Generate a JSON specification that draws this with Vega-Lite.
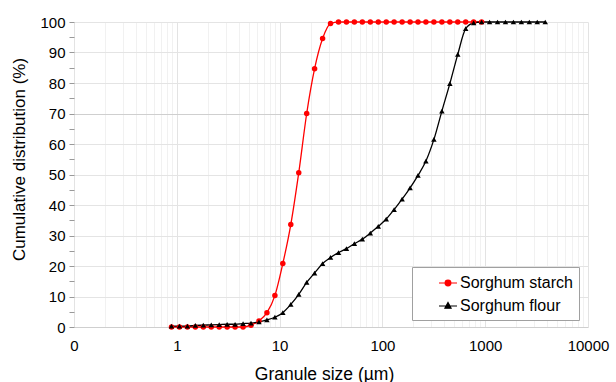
{
  "$schema": "https://vega.github.io/schema/vega-lite/v6.json",
  "width": 514,
  "height": 305,
  "autosize": "none",
  "padding": {"left": 74, "top": 22, "right": 28, "bottom": 55},
  "background": "white",
  "config": {"font": "Liberation Sans", "view": {"stroke": null}},
  "data": {"values": [
    {"size": 0.888, "cum": 0, "sample": "Sorghum starch"},
    {"size": 1.061, "cum": 0, "sample": "Sorghum starch"},
    {"size": 1.268, "cum": 0, "sample": "Sorghum starch"},
    {"size": 1.515, "cum": 0, "sample": "Sorghum starch"},
    {"size": 1.811, "cum": 0, "sample": "Sorghum starch"},
    {"size": 2.164, "cum": 0, "sample": "Sorghum starch"},
    {"size": 2.586, "cum": 0, "sample": "Sorghum starch"},
    {"size": 3.09, "cum": 0, "sample": "Sorghum starch"},
    {"size": 3.69, "cum": 0, "sample": "Sorghum starch"},
    {"size": 4.41, "cum": 0, "sample": "Sorghum starch"},
    {"size": 5.27, "cum": 0.6, "sample": "Sorghum starch"},
    {"size": 6.30, "cum": 2.0, "sample": "Sorghum starch"},
    {"size": 7.53, "cum": 4.7, "sample": "Sorghum starch"},
    {"size": 9.00, "cum": 10.3, "sample": "Sorghum starch"},
    {"size": 10.75, "cum": 20.8, "sample": "Sorghum starch"},
    {"size": 12.85, "cum": 33.6, "sample": "Sorghum starch"},
    {"size": 15.36, "cum": 50.6, "sample": "Sorghum starch"},
    {"size": 18.35, "cum": 70.0, "sample": "Sorghum starch"},
    {"size": 21.9, "cum": 84.7, "sample": "Sorghum starch"},
    {"size": 26.2, "cum": 94.6, "sample": "Sorghum starch"},
    {"size": 31.3, "cum": 99.5, "sample": "Sorghum starch"},
    {"size": 37.4, "cum": 100, "sample": "Sorghum starch"},
    {"size": 44.7, "cum": 100, "sample": "Sorghum starch"},
    {"size": 53.4, "cum": 100, "sample": "Sorghum starch"},
    {"size": 63.8, "cum": 100, "sample": "Sorghum starch"},
    {"size": 76.3, "cum": 100, "sample": "Sorghum starch"},
    {"size": 91.2, "cum": 100, "sample": "Sorghum starch"},
    {"size": 109, "cum": 100, "sample": "Sorghum starch"},
    {"size": 130, "cum": 100, "sample": "Sorghum starch"},
    {"size": 155.5, "cum": 100, "sample": "Sorghum starch"},
    {"size": 186, "cum": 100, "sample": "Sorghum starch"},
    {"size": 222, "cum": 100, "sample": "Sorghum starch"},
    {"size": 265, "cum": 100, "sample": "Sorghum starch"},
    {"size": 317, "cum": 100, "sample": "Sorghum starch"},
    {"size": 379, "cum": 100, "sample": "Sorghum starch"},
    {"size": 453, "cum": 100, "sample": "Sorghum starch"},
    {"size": 541, "cum": 100, "sample": "Sorghum starch"},
    {"size": 646, "cum": 100, "sample": "Sorghum starch"},
    {"size": 772, "cum": 100, "sample": "Sorghum starch"},
    {"size": 923, "cum": 100, "sample": "Sorghum starch"},
    {"size": 0.888, "cum": 0.3, "sample": "Sorghum flour"},
    {"size": 1.061, "cum": 0.3, "sample": "Sorghum flour"},
    {"size": 1.268, "cum": 0.3, "sample": "Sorghum flour"},
    {"size": 1.515, "cum": 0.5, "sample": "Sorghum flour"},
    {"size": 1.811, "cum": 0.6, "sample": "Sorghum flour"},
    {"size": 2.164, "cum": 0.7, "sample": "Sorghum flour"},
    {"size": 2.586, "cum": 0.8, "sample": "Sorghum flour"},
    {"size": 3.09, "cum": 0.9, "sample": "Sorghum flour"},
    {"size": 3.69, "cum": 0.9, "sample": "Sorghum flour"},
    {"size": 4.41, "cum": 1.1, "sample": "Sorghum flour"},
    {"size": 5.27, "cum": 1.3, "sample": "Sorghum flour"},
    {"size": 6.30, "cum": 1.7, "sample": "Sorghum flour"},
    {"size": 7.53, "cum": 2.3, "sample": "Sorghum flour"},
    {"size": 9.00, "cum": 3.2, "sample": "Sorghum flour"},
    {"size": 10.75, "cum": 4.7, "sample": "Sorghum flour"},
    {"size": 12.85, "cum": 7.4, "sample": "Sorghum flour"},
    {"size": 15.36, "cum": 10.7, "sample": "Sorghum flour"},
    {"size": 18.35, "cum": 14.6, "sample": "Sorghum flour"},
    {"size": 21.9, "cum": 17.7, "sample": "Sorghum flour"},
    {"size": 26.2, "cum": 20.8, "sample": "Sorghum flour"},
    {"size": 31.3, "cum": 22.8, "sample": "Sorghum flour"},
    {"size": 37.4, "cum": 24.4, "sample": "Sorghum flour"},
    {"size": 44.7, "cum": 25.7, "sample": "Sorghum flour"},
    {"size": 53.4, "cum": 27.3, "sample": "Sorghum flour"},
    {"size": 63.8, "cum": 28.8, "sample": "Sorghum flour"},
    {"size": 76.3, "cum": 30.8, "sample": "Sorghum flour"},
    {"size": 91.2, "cum": 33.0, "sample": "Sorghum flour"},
    {"size": 109, "cum": 35.4, "sample": "Sorghum flour"},
    {"size": 130, "cum": 38.5, "sample": "Sorghum flour"},
    {"size": 155.5, "cum": 41.9, "sample": "Sorghum flour"},
    {"size": 186, "cum": 45.6, "sample": "Sorghum flour"},
    {"size": 222, "cum": 49.7, "sample": "Sorghum flour"},
    {"size": 265, "cum": 54.4, "sample": "Sorghum flour"},
    {"size": 317, "cum": 61.5, "sample": "Sorghum flour"},
    {"size": 379, "cum": 70.8, "sample": "Sorghum flour"},
    {"size": 453, "cum": 79.8, "sample": "Sorghum flour"},
    {"size": 541, "cum": 89.4, "sample": "Sorghum flour"},
    {"size": 646, "cum": 97.8, "sample": "Sorghum flour"},
    {"size": 772, "cum": 99.7, "sample": "Sorghum flour"},
    {"size": 923, "cum": 100, "sample": "Sorghum flour"},
    {"size": 1103, "cum": 100, "sample": "Sorghum flour"},
    {"size": 1318, "cum": 100, "sample": "Sorghum flour"},
    {"size": 1575, "cum": 100, "sample": "Sorghum flour"},
    {"size": 1882, "cum": 100, "sample": "Sorghum flour"},
    {"size": 2249, "cum": 100, "sample": "Sorghum flour"},
    {"size": 2688, "cum": 100, "sample": "Sorghum flour"},
    {"size": 3212, "cum": 100, "sample": "Sorghum flour"},
    {"size": 3838, "cum": 100, "sample": "Sorghum flour"}
  ]},
  "encoding": {
    "x": {
      "field": "size", "type": "quantitative",
      "scale": {"type": "log", "domain": [0.1, 10000], "nice": false},
      "axis": {
        "title": "Granule size (µm)",
        "values": [0.1,0.2,0.3,0.4,0.5,0.6,0.7,0.8,0.9,1,2,3,4,5,6,7,8,9,10,20,30,40,50,60,70,80,90,100,200,300,400,500,600,700,800,900,1000,2000,3000,4000,5000,6000,7000,8000,9000,10000],
        "labelExpr": "datum.value == 0.1 ? '0' : ((datum.value == 1 || datum.value == 10 || datum.value == 100 || datum.value == 1000 || datum.value == 10000) ? '' + datum.value : '')",
        "labelOverlap": false,
        "labelBound": false,
        "labelFlush": false,
        "labelFontSize": 15,
        "labelColor": "#000",
        "labelPadding": 11,
        "ticks": false,
        "domain": false,
        "grid": true,
        "gridColor": {"condition": {"test": "datum.value == 0.1 || datum.value == 1 || datum.value == 10 || datum.value == 100 || datum.value == 1000 || datum.value == 10000", "value": "#e3e3e3"}, "value": "#f1f1f1"},
        "gridWidth": 1,
        "titleFontSize": 17.5,
        "titleFontWeight": "normal",
        "titleColor": "#000",
        "titleX": 250,
        "titleY": 52,
        "titleBaseline": "alphabetic",
        "titleAlign": "center"
      }
    },
    "y": {
      "field": "cum", "type": "quantitative",
      "scale": {"domain": [0, 100], "nice": false},
      "axis": {
        "title": "Cumulative distribution (%)",
        "values": [0,5,10,15,20,25,30,35,40,45,50,55,60,65,70,75,80,85,90,95,100],
        "labelExpr": "datum.value % 10 == 0 ? datum.label : ''",
        "labelFontSize": 15,
        "labelColor": "#000",
        "labelPadding": 4,
        "labelOverlap": false,
        "labelBound": false,
        "labelFlush": false,
        "tickSize": 5,
        "tickColor": "#999",
        "domain": false,
        "grid": true,
        "gridColor": {"condition": {"test": "datum.value == 70 || datum.value == 0", "value": "#cfcfcf"}, "value": "#e4e4e4"},
        "gridOpacity": {"condition": {"test": "datum.value % 10 == 0", "value": 1}, "value": 0},
        "titleFontSize": 17,
        "titleFontWeight": "normal",
        "titleColor": "#000",
        "titleX": -54.5,
        "titleY": 137,
        "titleAngle": -90,
        "titleBaseline": "middle",
        "titleAlign": "center"
      }
    },
    "color": {
      "field": "sample", "type": "nominal",
      "scale": {"domain": ["Sorghum starch", "Sorghum flour"], "range": ["#ff0000", "#000000"]},
      "legend": {
        "orient": "none",
        "legendX": 338,
        "legendY": 245,
        "title": null,
        "padding": 6,
        "symbolOffset": 20,
        "labelOffset": 2,
        "rowPadding": 5,
        "labelFontSize": 16,
        "labelColor": "#000",
        "labelExpr": "datum.label + '\u00a0\u00a0\u00a0'",
        "fillColor": "white",
        "strokeColor": "#a0a0a0",
        "symbolSize": 324,
        "symbolStrokeWidth": 1.2,
        "encode": {
          "symbols": {
            "update": {
              "shape": {"signal": "datum.value == 'Sorghum starch' ? 'M-1,0L1,0M0.32,0A0.32,0.32,0,1,1,-0.32,0A0.32,0.32,0,1,1,0.32,0Z' : 'M-1,0L1,0M0,-0.38L0.34,0.25L-0.34,0.25Z'"},
              "fill": {"signal": "datum.value == 'Sorghum starch' ? '#ff0000' : '#000000'"},
              "stroke": {"signal": "datum.value == 'Sorghum starch' ? '#ff0000' : '#000000'"},
              "strokeWidth": {"value": 1.2},
              "opacity": {"value": 1},
              "size": {"value": 324}
            }
          }
        }
      }
    }
  },
  "layer": [
    {"mark": {"type": "line", "interpolate": "monotone", "strokeWidth": 1.3}},
    {
      "transform": [{"filter": "datum.sample == 'Sorghum starch'"}],
      "mark": {"type": "point", "shape": "circle", "filled": true, "size": 30, "opacity": 1}
    },
    {
      "transform": [{"filter": "datum.sample == 'Sorghum flour'"}],
      "mark": {"type": "point", "shape": "triangle-up", "filled": true, "size": 30, "opacity": 1}
    }
  ]
}
